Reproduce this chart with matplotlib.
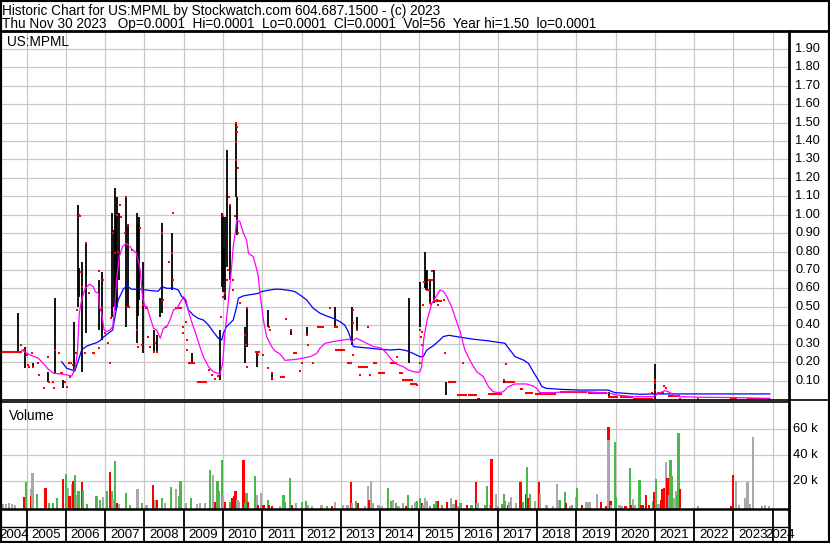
import matplotlib
matplotlib.use("Agg")
import matplotlib.pyplot as plt
from matplotlib.lines import Line2D
from matplotlib.patches import Rectangle

plt.rcParams['font.family'] = ['Liberation Sans', 'DejaVu Sans']

W, H = 830, 543

title_1 = "Historic Chart for US:MPML by Stockwatch.com 604.687.1500 - (c) 2023"
title_2 = "Thu Nov 30 2023   Op=0.0001  Hi=0.0001  Lo=0.0001  Cl=0.0001  Vol=56  Year hi=1.50  lo=0.0001"

years = list(range(2004, 2025))
price_ticks = [0.1, 0.2, 0.3, 0.4, 0.5, 0.6, 0.7, 0.8, 0.9, 1.0,
               1.1, 1.2, 1.3, 1.4, 1.5, 1.6, 1.7, 1.8, 1.9]
vol_ticks = [20000, 40000, 60000]
vol_tick_labels = ["20 k", "40 k", "60 k"]

# high/low bars: year, high, low
hl_year = [2004.79, 2004.96, 2005.17, 2005.55, 2005.72, 2005.92, 2006.21, 2006.30, 2006.34, 2006.41,
           2006.51, 2006.83, 2006.92, 2007.18, 2007.22, 2007.25, 2007.28, 2007.31, 2007.34, 2007.53,
           2007.59, 2007.82, 2007.84, 2007.85, 2007.95, 2008.23, 2008.31, 2008.40, 2008.45, 2008.69,
           2009.20, 2009.92, 2009.98, 2010.00, 2010.02, 2010.05, 2010.09, 2010.19, 2010.32, 2010.36,
           2010.56, 2010.62, 2010.86, 2011.15, 2011.26, 2011.72, 2012.13, 2012.85, 2013.28, 2013.42,
           2014.74, 2015.03, 2015.14, 2015.17, 2015.19, 2015.27, 2015.37, 2015.69, 2017.15, 2019.84,
           2021.00]
hl_high = [0.466, 0.285, 0.194, 0.149, 0.547, 0.104, 0.420, 1.053, 0.710, 0.746,
           0.854, 0.646, 0.692, 1.008, 0.920, 1.144, 0.990, 1.099, 1.008, 1.099,
           0.945, 1.008, 0.950, 0.990, 0.746, 0.375, 0.348, 0.547, 0.954, 0.900,
           0.248, 0.375, 1.008, 0.990, 0.820, 0.990, 1.352, 1.053, 1.505, 1.099,
           0.393, 0.502, 0.258, 0.484, 0.149, 0.379, 0.393, 0.502, 0.502, 0.447,
           0.547, 0.637, 0.800, 0.701, 0.701, 0.646, 0.701, 0.095, 0.107, 0.040,
           0.190]
hl_low = [0.258, 0.167, 0.167, 0.095, 0.140, 0.059, 0.149, 0.502, 0.556, 0.149,
          0.357, 0.375, 0.321, 0.447, 0.500, 0.484, 0.510, 0.502, 0.646, 0.393,
          0.492, 0.303, 0.450, 0.538, 0.248, 0.258, 0.258, 0.447, 0.466, 0.592,
          0.194, 0.104, 0.610, 0.580, 0.640, 0.538, 0.719, 0.646, 1.099, 0.891,
          0.194, 0.285, 0.176, 0.393, 0.104, 0.348, 0.348, 0.393, 0.294, 0.375,
          0.194, 0.393, 0.601, 0.592, 0.592, 0.520, 0.520, 0.022, 0.089, 0.004,
          0.000]

# single closes
close_year = [2004.85, 2004.92, 2005.00, 2005.04, 2005.07, 2005.13, 2005.17, 2005.30, 2005.32, 2005.45,
              2005.55, 2005.58, 2005.70, 2005.72, 2005.83, 2005.98, 2006.02, 2006.10, 2006.19, 2006.26,
              2006.29, 2006.32, 2006.36, 2006.39, 2006.42, 2006.49, 2006.51, 2006.59, 2006.84, 2006.85,
              2006.91, 2006.95, 2006.99, 2007.08, 2007.12, 2007.16, 2007.21, 2007.25, 2007.29, 2007.33,
              2007.38, 2007.40, 2007.50, 2007.53, 2007.55, 2007.59, 2007.61, 2007.67, 2007.80, 2007.84,
              2007.89, 2007.93, 2007.97, 2008.10, 2008.14, 2008.23, 2008.27, 2008.31, 2008.45, 2008.48,
              2008.55, 2008.63, 2008.69, 2008.72, 2008.72, 2008.97, 2008.97, 2009.06, 2009.08, 2009.08,
              2009.65, 2009.71, 2009.80, 2009.88, 2009.95, 2009.99, 2010.01, 2010.05, 2010.09, 2010.12,
              2010.15, 2010.18, 2010.26, 2010.31, 2010.33, 2010.35, 2010.35, 2010.33, 2010.33, 2010.37,
              2010.37, 2010.43, 2010.56, 2010.59, 2010.60, 2010.62, 2010.90, 2011.03, 2011.15, 2011.18,
              2011.20, 2011.24, 2011.26, 2011.60, 2011.72, 2011.96, 2012.00, 2012.15, 2012.16, 2012.30,
              2012.72, 2013.30, 2013.30, 2013.32, 2013.42, 2013.50, 2013.70, 2013.74, 2014.42, 2014.51,
              2014.55, 2014.95, 2015.02, 2015.02, 2015.04, 2015.06, 2015.06, 2015.10, 2015.13, 2015.19,
              2015.25, 2015.27, 2015.29, 2015.33, 2015.45, 2015.47, 2015.64, 2015.66, 2016.12, 2017.15,
              2017.22, 2020.92, 2021.00, 2021.00, 2021.00, 2021.24, 2021.28, 2021.64, 2022.11]
close_price = [0.294, 0.266, 0.240, 0.185, 0.176, 0.248, 0.176, 0.194, 0.131, 0.059,
               0.226, 0.095, 0.059, 0.266, 0.248, 0.095, 0.068, 0.122, 0.185, 0.248,
               0.484, 0.999, 0.993, 0.692, 0.610, 0.248, 0.849, 0.574, 0.697, 0.276,
               0.492, 0.646, 0.357, 0.303, 0.194, 0.438, 0.900, 0.791, 0.999, 0.800,
               1.053, 0.990, 0.900, 1.099, 0.502, 0.945, 0.502, 0.809, 0.375, 0.285,
               0.927, 0.294, 0.511, 0.339, 0.285, 0.258, 0.303, 0.258, 0.900, 0.538,
               0.393, 0.746, 0.791, 1.008, 0.646, 0.393, 0.357, 0.420, 0.321, 0.266,
               0.158, 0.131, 0.107, 0.125, 0.447, 0.556, 0.993, 0.574, 0.646, 0.701,
               1.099, 1.053, 0.592, 0.993, 1.500, 1.478, 1.451, 1.397, 1.298, 1.252,
               0.900, 0.520, 0.348, 0.294, 0.176, 0.492, 0.240, 0.240, 0.167, 0.393,
               0.375, 0.113, 0.140, 0.434, 0.375, 0.154, 0.194, 0.348, 0.294, 0.194,
               0.496, 0.484, 0.411, 0.240, 0.375, 0.131, 0.393, 0.131, 0.226, 0.143,
               0.143, 0.077, 0.375, 0.194, 0.339, 0.366, 0.294, 0.511, 0.637, 0.592,
               0.592, 0.520, 0.516, 0.695, 0.538, 0.511, 0.538, 0.248, 0.194, 0.104,
               0.190, 0.035, 0.104, 0.089, 0.049, 0.072, 0.058, 0.000, 0.000]

# stretches where the close stayed put: start, end, price
flat_start = [2004.37, 2005.64, 2005.85, 2006.06, 2006.66, 2008.01, 2008.78, 2009.12, 2009.33, 2010.22,
              2010.82, 2011.45, 2011.79, 2012.40, 2012.82, 2012.86, 2013.15, 2013.44, 2013.83, 2013.96,
              2014.25, 2014.55, 2014.76, 2015.22, 2015.36, 2015.74, 2015.95, 2016.25, 2016.46, 2016.76,
              2017.18, 2017.56, 2017.69, 2017.94, 2018.58, 2019.30, 2019.81, 2020.11, 2020.45, 2021.05,
              2021.34, 2022.91, 2023.34]
flat_end = [2004.87, 2005.70, 2005.93, 2006.15, 2006.74, 2008.10, 2008.95, 2009.29, 2009.58, 2010.28,
            2010.94, 2011.58, 2011.89, 2012.57, 2012.92, 2013.11, 2013.28, 2013.70, 2013.91, 2014.13,
            2014.42, 2014.85, 2014.93, 2015.36, 2015.57, 2015.93, 2016.21, 2016.46, 2016.54, 2017.10,
            2017.44, 2017.65, 2017.90, 2018.49, 2019.26, 2019.77, 2020.07, 2020.45, 2020.96, 2021.22,
            2021.64, 2023.08, 2023.93]
flat_price = [0.258, 0.095, 0.140, 0.194, 0.248, 0.492, 0.492, 0.194, 0.095, 0.646,
              0.258, 0.118, 0.248, 0.393, 0.393, 0.266, 0.194, 0.176, 0.194, 0.144,
              0.194, 0.104, 0.082, 0.646, 0.530, 0.095, 0.020, 0.022, 0.002, 0.030,
              0.095, 0.053, 0.035, 0.028, 0.040, 0.035, 0.013, 0.010, 0.002, 0.034,
              0.015, 0.001, 0.003]

# moving averages
ma_fast_year = [2004.87, 2005.08, 2005.30, 2005.42, 2005.55, 2005.68, 2005.89, 2006.02, 2006.15, 2006.23,
                2006.29, 2006.34, 2006.40, 2006.49, 2006.60, 2006.70, 2006.74, 2006.83, 2006.85, 2006.91,
                2006.97, 2007.04, 2007.12, 2007.19, 2007.25, 2007.29, 2007.36, 2007.44, 2007.53, 2007.63,
                2007.70, 2007.80, 2007.89, 2007.95, 2008.01, 2008.06, 2008.14, 2008.23, 2008.31, 2008.40,
                2008.48, 2008.57, 2008.65, 2008.74, 2008.82, 2008.95, 2008.99, 2009.06, 2009.12, 2009.20,
                2009.33, 2009.41, 2009.50, 2009.63, 2009.75, 2009.88, 2009.92, 2009.99, 2010.05, 2010.14,
                2010.22, 2010.26, 2010.31, 2010.35, 2010.43, 2010.52, 2010.60, 2010.65, 2010.77, 2010.84,
                2010.90, 2010.94, 2011.03, 2011.11, 2011.24, 2011.32, 2011.45, 2011.58, 2011.88, 2012.22,
                2012.39, 2012.47, 2012.60, 2012.81, 2013.07, 2013.23, 2013.28, 2013.40, 2013.57, 2013.83,
                2014.04, 2014.17, 2014.30, 2014.42, 2014.59, 2014.72, 2014.85, 2014.97, 2015.02, 2015.06,
                2015.11, 2015.20, 2015.32, 2015.45, 2015.53, 2015.62, 2015.70, 2015.82, 2015.95, 2016.04,
                2016.16, 2016.33, 2016.46, 2016.63, 2016.76, 2016.88, 2017.01, 2017.14, 2017.27, 2017.44,
                2017.73, 2017.90, 2017.99, 2018.07, 2018.41, 2018.75, 2019.26, 2019.60, 2019.86, 2020.03,
                2020.46, 2020.96, 2021.09, 2021.26, 2021.39, 2021.47, 2021.64, 2022.15, 2023.00, 2023.93]
ma_fast_val = [0.266, 0.240, 0.221, 0.194, 0.162, 0.140, 0.136, 0.131, 0.125, 0.167,
               0.248, 0.466, 0.538, 0.601, 0.623, 0.610, 0.583, 0.574, 0.502, 0.466,
               0.375, 0.366, 0.375, 0.393, 0.520, 0.647, 0.773, 0.827, 0.845, 0.827,
               0.809, 0.791, 0.701, 0.556, 0.502, 0.502, 0.447, 0.384, 0.375, 0.330,
               0.384, 0.393, 0.429, 0.484, 0.492, 0.538, 0.556, 0.538, 0.475, 0.420,
               0.339, 0.285, 0.230, 0.176, 0.149, 0.140, 0.131, 0.194, 0.357, 0.538,
               0.719, 0.827, 0.900, 0.972, 0.963, 0.900, 0.863, 0.791, 0.773, 0.719,
               0.665, 0.574, 0.429, 0.339, 0.285, 0.262, 0.245, 0.210, 0.216, 0.230,
               0.248, 0.276, 0.303, 0.312, 0.321, 0.325, 0.312, 0.330, 0.312, 0.285,
               0.276, 0.248, 0.212, 0.190, 0.176, 0.158, 0.149, 0.144, 0.150, 0.176,
               0.321, 0.430, 0.520, 0.565, 0.592, 0.583, 0.556, 0.502, 0.420, 0.366,
               0.266, 0.194, 0.149, 0.122, 0.068, 0.040, 0.035, 0.040, 0.068, 0.082,
               0.082, 0.071, 0.058, 0.035, 0.035, 0.040, 0.040, 0.035, 0.031, 0.022,
               0.013, 0.013, 0.031, 0.046, 0.035, 0.022, 0.013, 0.010, 0.008, 0.004]

ma_slow_year = [2005.89, 2006.02, 2006.15, 2006.23, 2006.32, 2006.40, 2006.51, 2006.61, 2006.78, 2006.87,
                2006.97, 2007.08, 2007.19, 2007.25, 2007.33, 2007.46, 2007.55, 2007.67, 2007.89, 2008.14,
                2008.35, 2008.44, 2008.57, 2008.74, 2008.86, 2008.95, 2009.03, 2009.12, 2009.24, 2009.37,
                2009.50, 2009.63, 2009.75, 2009.88, 2009.97, 2010.01, 2010.09, 2010.26, 2010.35, 2010.39,
                2010.52, 2010.65, 2010.77, 2010.90, 2010.98, 2011.11, 2011.32, 2011.45, 2011.71, 2011.83,
                2011.96, 2012.13, 2012.30, 2012.47, 2012.64, 2012.81, 2012.98, 2013.10, 2013.19, 2013.28,
                2013.32, 2013.50, 2013.74, 2014.00, 2014.25, 2014.50, 2014.67, 2014.84, 2015.02, 2015.10,
                2015.19, 2015.36, 2015.48, 2015.61, 2015.75, 2015.95, 2016.37, 2016.71, 2017.18, 2017.31,
                2017.44, 2017.65, 2017.78, 2017.90, 2018.03, 2018.12, 2018.24, 2018.58, 2019.09, 2019.81,
                2019.98, 2020.62, 2020.96, 2021.30, 2023.93]
ma_slow_val = [0.203, 0.167, 0.158, 0.154, 0.212, 0.266, 0.285, 0.294, 0.306, 0.317,
               0.339, 0.357, 0.375, 0.447, 0.538, 0.596, 0.614, 0.596, 0.596, 0.589,
               0.585, 0.610, 0.601, 0.601, 0.592, 0.556, 0.538, 0.484, 0.456, 0.438,
               0.429, 0.402, 0.366, 0.330, 0.321, 0.357, 0.393, 0.429, 0.502, 0.547,
               0.560, 0.565, 0.569, 0.574, 0.583, 0.589, 0.596, 0.596, 0.589, 0.583,
               0.565, 0.538, 0.492, 0.466, 0.451, 0.438, 0.420, 0.402, 0.366, 0.312,
               0.285, 0.281, 0.276, 0.270, 0.266, 0.270, 0.263, 0.248, 0.230, 0.230,
               0.266, 0.290, 0.312, 0.339, 0.346, 0.339, 0.325, 0.317, 0.303, 0.266,
               0.230, 0.212, 0.194, 0.149, 0.104, 0.068, 0.058, 0.053, 0.049, 0.049,
               0.035, 0.026, 0.028, 0.028, 0.028]

# volume: year, shares, direction (u = up, d = down, f = unchanged)
vol_year = [2004.40, 2004.47, 2004.55, 2004.63, 2004.70, 2004.93, 2004.98, 2005.10, 2005.12, 2005.15,
            2005.27, 2005.48, 2005.57, 2005.68, 2005.78, 2005.92, 2006.01, 2006.06, 2006.09, 2006.15,
            2006.18, 2006.23, 2006.28, 2006.32, 2006.40, 2006.44, 2006.54, 2006.78, 2006.87, 2006.95,
            2007.05, 2007.12, 2007.17, 2007.20, 2007.25, 2007.31, 2007.36, 2007.53, 2007.63, 2007.82,
            2007.93, 2008.05, 2008.21, 2008.27, 2008.31, 2008.44, 2008.52, 2008.67, 2008.80, 2008.89,
            2008.92, 2009.06, 2009.18, 2009.33, 2009.41, 2009.54, 2009.67, 2009.75, 2009.81, 2009.86,
            2009.90, 2009.97, 2009.99, 2010.05, 2010.18, 2010.24, 2010.29, 2010.32, 2010.37, 2010.41,
            2010.52, 2010.56, 2010.60, 2010.63, 2010.82, 2010.86, 2010.90, 2010.97, 2011.03, 2011.14,
            2011.17, 2011.24, 2011.45, 2011.54, 2011.58, 2011.71, 2011.75, 2011.85, 2012.02, 2012.11,
            2012.17, 2012.26, 2012.51, 2012.64, 2012.77, 2012.85, 2013.06, 2013.17, 2013.26, 2013.29,
            2013.38, 2013.43, 2013.62, 2013.69, 2013.72, 2013.76, 2013.81, 2013.96, 2014.04, 2014.21,
            2014.28, 2014.32, 2014.41, 2014.47, 2014.59, 2014.66, 2014.72, 2014.81, 2014.89, 2014.95,
            2015.02, 2015.06, 2015.10, 2015.14, 2015.20, 2015.27, 2015.38, 2015.44, 2015.48, 2015.58,
            2015.70, 2015.80, 2015.87, 2015.93, 2015.99, 2016.05, 2016.21, 2016.33, 2016.44, 2016.48,
            2016.67, 2016.72, 2016.80, 2016.84, 2016.95, 2017.01, 2017.10, 2017.16, 2017.18, 2017.25,
            2017.29, 2017.33, 2017.46, 2017.56, 2017.58, 2017.64, 2017.71, 2017.75, 2017.77, 2017.81,
            2017.95, 2018.05, 2018.07, 2018.24, 2018.41, 2018.50, 2018.54, 2018.58, 2018.71, 2018.73,
            2018.84, 2018.88, 2018.99, 2019.02, 2019.14, 2019.26, 2019.30, 2019.34, 2019.53, 2019.62,
            2019.77, 2019.82, 2019.82, 2019.87, 2019.89, 2019.98, 2020.00, 2020.10, 2020.15, 2020.25,
            2020.36, 2020.40, 2020.44, 2020.50, 2020.61, 2020.65, 2020.69, 2020.78, 2020.86, 2020.96,
            2020.98, 2021.02, 2021.07, 2021.13, 2021.16, 2021.19, 2021.23, 2021.24, 2021.28, 2021.32,
            2021.35, 2021.40, 2021.44, 2021.48, 2021.53, 2021.56, 2021.60, 2021.64, 2022.09, 2022.94,
            2022.98, 2023.06, 2023.14, 2023.31, 2023.36, 2023.42, 2023.49, 2023.72, 2023.80, 2023.91]
vol_amt = [1800, 2000, 2500, 2000, 1500, 7600, 19200, 13600, 8400, 26100,
           10100, 14400, 2600, 3000, 6400, 21300, 25100, 14300, 8400, 17500,
           19900, 24300, 9000, 12300, 19200, 12800, 2100, 8300, 4900, 7300,
           12000, 26900, 12000, 6000, 35100, 2800, 2300, 10200, 1300, 13500,
           2800, 1500, 16700, 4900, 4900, 6400, 2800, 15400, 13600, 8400,
           20000, 2800, 6400, 1800, 3100, 3100, 28200, 24400, 3600, 20000,
           12300, 35900, 8200, 3300, 3300, 6400, 8200, 12300, 5100, 3300,
           35900, 2800, 10800, 3300, 23900, 8700, 1500, 10800, 1000, 5000,
           1500, 800, 800, 9000, 3300, 22000, 1300, 2800, 3400, 4400,
           1500, 800, 1000, 500, 500, 3600, 1500, 1000, 19000, 2800,
           4300, 2600, 600, 15900, 5100, 19800, 2800, 1500, 800, 14400,
           4600, 5000, 2500, 700, 2600, 700, 9000, 1300, 3600, 4300,
           6700, 2800, 1500, 6700, 4600, 600, 1800, 4600, 4600, 1000,
           3300, 6700, 2000, 5000, 800, 2800, 1000, 1300, 19000, 2800,
           1000, 15900, 1000, 36700, 9800, 800, 2000, 9800, 4100, 1500,
           3300, 7400, 2600, 1500, 19000, 3300, 9500, 30500, 6900, 9800,
           4100, 19000, 9800, 1300, 700, 17500, 5400, 5000, 11500, 2800,
           500, 1000, 7700, 14400, 1300, 3600, 3300, 3800, 9800, 3600,
           800, 61300, 51000, 4600, 1300, 49800, 7400, 1300, 800, 800,
           29800, 1300, 5900, 1300, 20500, 1300, 1300, 9000, 1300, 4400,
           11500, 21300, 2000, 2000, 5100, 13800, 9000, 14600, 34400, 22000,
           9000, 35900, 23900, 6400, 12300, 9000, 56700, 13800, 800, 800,
           24400, 20000, 1300, 6700, 18800, 1800, 53600, 800, 1300, 800]
vol_dir = list("fffffdufdf" "uduuudufdf" "dufuduuuuf" "udufudfuuf" "ufdfdufufu"
               "ufufffufdu" "uufdudddff" "duudufdfdu" "ddfuuudfuu" "fffudfffdf"
               "udffdffffu" "ufuffduffu" "udfffuuudu" "dffdfududf" "uufdffuuud"
               "fffddududu" "fdfffffuud" "fufudffffd" "ddfdfuuffd" "udffuddddu"
               "duffddudfd" "fuuffuudfd" "dfffffffff")

VOL_COLORS = {'u': '#4CB84C', 'd': '#FF0000', 'f': '#A8A8A8'}
GRID = '#C8C8C8'

# axis limits (edges of the panels)
X_LO, X_HI = 2004.371, 2024.391
P_LO, P_HI = -0.005, 1.997
V_LO, V_HI = -1770, 80540


def fx(px):
    return px / W


def fy(py):
    return 1 - py / H


fig = plt.figure(figsize=(W / 100, H / 100), dpi=100)
fig.patch.set_facecolor('white')

ax_p = fig.add_axes([fx(2), fy(400), (788 - 2) / W, (400 - 31) / H])
ax_v = fig.add_axes([fx(2), fy(509), (788 - 2) / W, (509 - 402) / H])
ax_t = fig.add_axes([fx(2), fy(543), (788 - 2) / W, (543 - 509) / H])

for ax in (ax_p, ax_v, ax_t):
    ax.set_xlim(X_LO, X_HI)
    ax.set_xticks([])
    ax.set_yticks([])
    for s in ax.spines.values():
        s.set_visible(False)

ax_p.set_ylim(P_LO, P_HI)
ax_v.set_ylim(V_LO, V_HI)
ax_t.set_ylim(0, 1)

# grid
for ax in (ax_p, ax_v):
    for yr in years[1:]:
        ax.axvline(yr, color=GRID, lw=0.9, zorder=0)
for p in price_ticks:
    ax_p.axhline(p, color=GRID, lw=0.9, zorder=0)
for v in vol_ticks:
    ax_v.axhline(v, color=GRID, lw=0.9, zorder=0)

# price panel
ax_p.vlines(hl_year, hl_low, hl_high, color='black', lw=1.3, zorder=2)
ax_p.hlines(flat_price, flat_start, flat_end, color='red', lw=1.5, zorder=3)
ax_p.plot(close_year, close_price, 's', color='red', ms=1.9, mew=0, zorder=3)
ax_p.plot(ma_slow_year, ma_slow_val, color='#0000FF', lw=0.9, zorder=4)
ax_p.plot(ma_fast_year, ma_fast_val, color='#FF00FF', lw=0.9, zorder=4)
ax_p.text(0.006, 0.958, "US:MPML", transform=ax_p.transAxes, fontsize=9.8, va='baseline', ha='left')

# volume panel
ax_v.bar(vol_year, [v - V_LO for v in vol_amt], bottom=V_LO, width=0.056,
         color=[VOL_COLORS[d] for d in vol_dir], lw=0, zorder=2)
ax_v.text(0.009, 0.83, "Volume", transform=ax_v.transAxes, fontsize=9.8, va='baseline', ha='left')

# year strip
for yr in years[1:]:
    ax_t.axvline(yr, color='black', lw=1.3)
ax_t.axhline((543 - 527) / (543 - 509), color='black', lw=1.0)
for yr in years:
    lo = max(yr, X_LO)
    hi = min(yr + 1, X_HI)
    ax_t.text((lo + hi) / 2, 0.25, str(yr), fontsize=9.6, ha='center', va='center', clip_on=False)

# right-hand scale labels
for p in price_ticks:
    y = ax_p.transData.transform((X_LO, p))[1]
    fig.text(fx(795), y / H, f"{p:.2f}", fontsize=9.2, ha='left', va='center')
for v, lab in zip(vol_ticks, vol_tick_labels):
    y = ax_v.transData.transform((X_LO, v))[1]
    fig.text(fx(793), y / H, lab, fontsize=9.4, ha='left', va='center')

# two-line title block
fig.text(fx(2), fy(3.6), title_1 + "\n" + title_2, fontsize=9.8, ha='left', va='top',
         linespacing=0.99)

# frame lines
frame = [((0, 830), (30.5, 30.5), 2.0),
         ((0, 830), (400, 400), 1.2),
         ((0, 788), (402.3, 402.3), 1.2),
         ((0, 788), (509.3, 509.3), 1.8),
         ((788.5, 788.5), (31, 543), 2.0)]
for (x0, x1), (y0, y1), lw in frame:
    fig.add_artist(Line2D([fx(x0), fx(x1)], [fy(y0), fy(y1)], color='black', lw=lw))
fig.add_artist(Rectangle((0, 0), 1, 1, transform=fig.transFigure, fill=False, ec='black', lw=3))

fig.savefig('out.png', dpi=100)
